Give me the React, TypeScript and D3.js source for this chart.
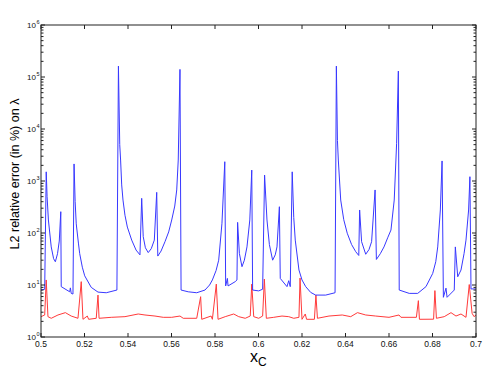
import React from "react";
import * as d3 from "d3";

// blue curve: x_C and error (%)
const xcBlue = [
  0.5, 0.5017, 0.5024, 0.5028, 0.5034, 0.5047, 0.5058, 0.5066, 0.5076, 0.5084,
  0.5091, 0.5093, 0.5132, 0.5135, 0.5139, 0.5147, 0.5152, 0.5157, 0.5162, 0.5172,
  0.5178, 0.519, 0.5201, 0.5231, 0.5262, 0.53, 0.5349, 0.5356, 0.5362, 0.5366,
  0.5371, 0.5377, 0.5386, 0.5397, 0.5417, 0.5437, 0.5455, 0.5463, 0.547, 0.548,
  0.5493, 0.5507, 0.5521, 0.5532, 0.5537, 0.5552, 0.557, 0.5587, 0.5601, 0.5615,
  0.5624, 0.5631, 0.5639, 0.5644, 0.5677, 0.5716, 0.5754, 0.5775, 0.5788, 0.5805,
  0.5817, 0.5832, 0.5845, 0.5849, 0.5857, 0.586, 0.5893, 0.5901, 0.5904, 0.5912,
  0.5924, 0.5935, 0.5947, 0.596, 0.5969, 0.5973, 0.6001, 0.6019, 0.6028, 0.6039,
  0.605, 0.6065, 0.6077, 0.6085, 0.6096, 0.61, 0.6131, 0.6139, 0.6146, 0.6155,
  0.6162, 0.6169, 0.6186, 0.62, 0.6217, 0.624, 0.6263, 0.6309, 0.6352, 0.6358,
  0.6363, 0.6367, 0.6378, 0.6392, 0.6408, 0.6428, 0.6447, 0.6461, 0.6465, 0.6474,
  0.6493, 0.6508, 0.652, 0.6536, 0.6542, 0.656, 0.6577, 0.6595, 0.6609, 0.6624,
  0.6635, 0.6643, 0.6647, 0.6693, 0.6732, 0.677, 0.6801, 0.6815, 0.6824, 0.6836,
  0.6844, 0.685, 0.6862, 0.6867, 0.69, 0.6905, 0.6916, 0.6931, 0.6945, 0.6954,
  0.6966, 0.6972, 0.6977, 0.7,
];
const errBlue = [
  8.0, 8.3, 1500, 500, 178, 54, 32, 28, 40, 70,
  257, 9.3, 7.4, 8.8, 6.9, 6.7, 2130, 400, 150, 64,
  40, 22, 15, 9.0, 7.3, 7.1, 8.0, 162000, 5000, 2530,
  840, 430, 220, 130, 73, 47, 38, 464, 85, 52,
  42, 50, 73, 605, 36, 45, 68, 105, 178, 330,
  673, 2530, 140000, 8.0, 7.4, 7.1, 8.0, 10, 12.5, 19,
  30, 154, 2350, 9.6, 13.4, 9.6, 11.6, 12.5, 160, 40.6,
  22.5, 30, 54, 178, 1620, 8.0, 7.7, 8.3, 1300, 178,
  60, 30, 38, 54, 320, 13.4, 9.3, 12.1, 9.3, 1500,
  200, 73, 19.4, 12.5, 9.3, 7.2, 6.4, 6.4, 7.1, 162000,
  6000, 2530, 430, 180, 99, 60, 43.7, 37, 277, 68,
  39, 48, 68, 673, 31, 40, 54, 83, 114, 430,
  5300, 130000, 8.0, 6.9, 6.9, 9.3, 16.7, 28, 54, 277,
  2430, 5.8, 8.7, 5.8, 8.0, 54, 14.4, 19.4, 40, 73,
  277, 1210, 8.4, 8.4,
];

// red curve
const xcRed = [
  0.5, 0.5017, 0.5024, 0.5032, 0.5047, 0.5078, 0.5112, 0.5139, 0.517, 0.5185,
  0.5193, 0.5213, 0.5219, 0.5254, 0.5262, 0.5267, 0.5323, 0.5386, 0.5447, 0.5478,
  0.5524, 0.5562, 0.5601, 0.5639, 0.5654, 0.5716, 0.5734, 0.5739, 0.5782, 0.5788,
  0.5806, 0.5814, 0.5847, 0.5886, 0.5909, 0.5939, 0.5962, 0.5969, 0.5978, 0.6001,
  0.6019, 0.6027, 0.6036, 0.607, 0.6108, 0.6139, 0.6162, 0.6186, 0.6191, 0.62,
  0.6215, 0.6221, 0.6257, 0.6264, 0.6271, 0.6324, 0.6385, 0.6424, 0.6455, 0.6493,
  0.6539, 0.66, 0.6646, 0.6655, 0.6726, 0.6735, 0.674, 0.6805, 0.6811, 0.6818,
  0.6854, 0.6885, 0.6908, 0.6931, 0.6954, 0.6969, 0.6982, 0.6991, 0.7,
];
const errRed = [
  2.46, 2.65, 12.5, 2.46, 2.29, 2.65, 2.94, 2.53, 2.29, 11.6,
  2.19, 2.53, 2.19, 2.29, 6.4, 2.29, 2.39, 2.46, 2.77, 2.65,
  2.53, 2.39, 2.39, 2.53, 2.29, 2.29, 5.96, 2.19, 2.53, 2.19,
  10.4, 2.19, 2.46, 2.77, 2.46, 2.29, 2.53, 10.4, 2.46, 2.29,
  2.53, 13, 2.29, 2.39, 2.53, 2.46, 2.29, 2.39, 13.6, 2.19,
  2.77, 2.19, 2.19, 6.4, 2.29, 2.53, 2.65, 2.46, 2.94, 2.65,
  2.53, 2.39, 2.65, 2.39, 2.39, 5.0, 2.19, 2.2, 7.8, 2.29,
  2.46, 2.94, 2.53, 2.77, 2.39, 10.2, 2.86, 2.46, 2.65,
];

const xTicks = [0.5, 0.52, 0.54, 0.56, 0.58, 0.6, 0.62, 0.64, 0.66, 0.68, 0.7];
const yExps = [0, 1, 2, 3, 4, 5, 6];

const font = "Arial, 'Liberation Sans', Helvetica, sans-serif";

export default function App() {
  const left = 41,
    right = 476,
    top = 25,
    bottom = 337;
  const x = d3.scaleLinear().domain([0.5, 0.7]).range([left, right]);
  const y = d3.scaleLog().domain([1, 1e6]).range([bottom, top]);

  const line = d3
    .line<[number, number]>()
    .x((d) => x(d[0]))
    .y((d) => y(d[1]));

  const blue = xcBlue.map((v, i) => [v, errBlue[i]] as [number, number]);
  const red = xcRed.map((v, i) => [v, errRed[i]] as [number, number]);

  const minor = y.ticks().filter((t) => !yExps.some((e) => Math.abs(t - Math.pow(10, e)) < 1e-9));
  const fmt = d3.format("~g");

  return (
    <svg
      width={496}
      height={373}
      style={{ position: "absolute", left: 0, top: 0, background: "#fff" }}
      fontFamily={font}
    >
      <rect x={0} y={0} width={496} height={373} fill="#fff" />
      <path d={line(red) || ""} fill="none" stroke="#ff3a3a" strokeWidth={1} />
      <path d={line(blue) || ""} fill="none" stroke="#3838ff" strokeWidth={1} />

      {/* frame */}
      <rect
        x={left}
        y={top}
        width={right - left}
        height={bottom - top}
        fill="none"
        stroke="#222"
        strokeWidth={1}
      />

      {/* x ticks */}
      {xTicks.map((t) => (
        <g key={"x" + t}>
          <line x1={x(t)} x2={x(t)} y1={bottom} y2={bottom - 4} stroke="#222" />
          <line x1={x(t)} x2={x(t)} y1={top} y2={top + 4} stroke="#222" />
          <text x={x(t)} y={347} fontSize={8.5} textAnchor="middle" fill="#111">
            {fmt(t)}
          </text>
        </g>
      ))}

      {/* y ticks */}
      {yExps.map((e) => {
        const yy = y(Math.pow(10, e));
        return (
          <g key={"y" + e}>
            <line x1={left} x2={left + 4} y1={yy} y2={yy} stroke="#222" />
            <line x1={right} x2={right - 4} y1={yy} y2={yy} stroke="#222" />
            <text x={36} y={yy + 3} fontSize={8} textAnchor="end" fill="#111">
              10
            </text>
            <text x={36.5} y={yy - 1.5} fontSize={5.5} fill="#111">
              {e}
            </text>
          </g>
        );
      })}
      {minor.map((t, i) => (
        <g key={"m" + i}>
          <line x1={left} x2={left + 2.5} y1={y(t)} y2={y(t)} stroke="#222" />
          <line x1={right} x2={right - 2.5} y1={y(t)} y2={y(t)} stroke="#222" />
        </g>
      ))}

      {/* labels */}
      <text
        transform={`translate(19,174) rotate(-90)`}
        fontSize={12.5}
        textAnchor="middle"
        fill="#000"
      >
        L2 relative error (in %) on λ
      </text>
      <text x={250} y={362} fontSize={16} fill="#000">
        x
        <tspan fontSize={12} dy={4}>
          C
        </tspan>
      </text>
    </svg>
  );
}
